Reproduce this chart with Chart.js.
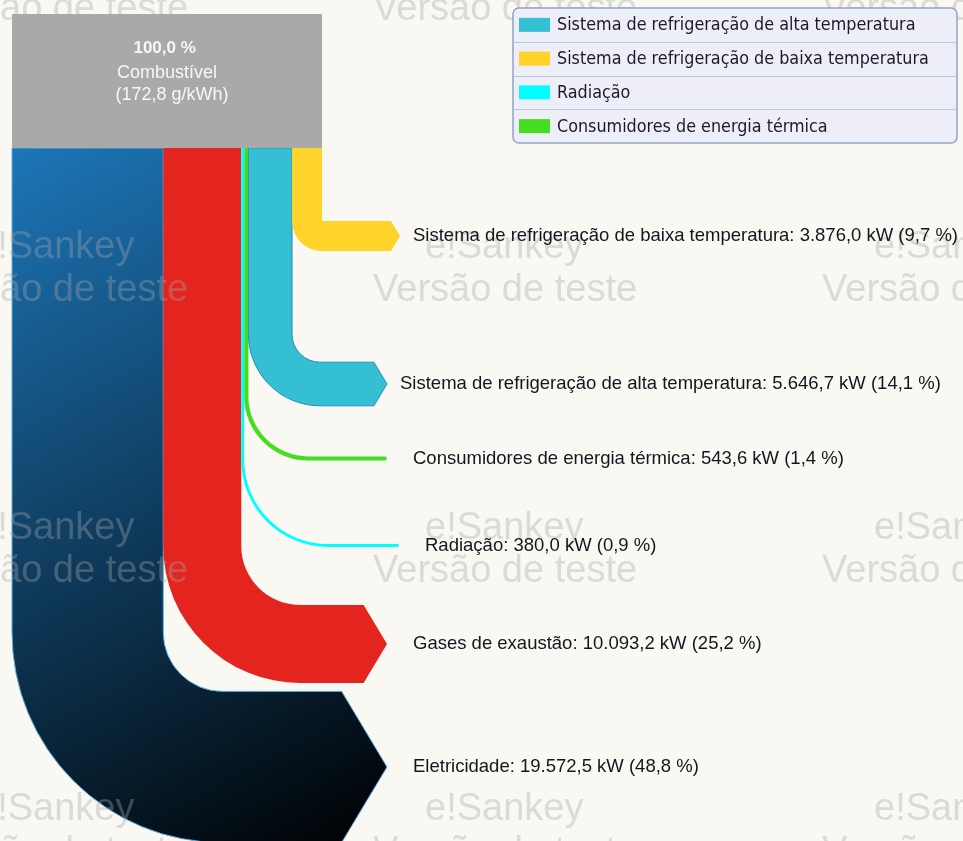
<!DOCTYPE html>
<html lang="pt">
<head>
<meta charset="utf-8">
<title>Balanço energético – Combustível</title>
<script src="https://cdn.jsdelivr.net/npm/chart.js@4.4.1/dist/chart.umd.min.js"></script>
<style>
  html, body { margin: 0; padding: 0; background: #f9f8f2; overflow: hidden; }
  #wrap { position: relative; width: 963px; height: 841px; }
</style>
</head>
<body>
<div id="wrap"><canvas id="sankey"></canvas></div>
<script>
/* ── Data ─────────────────────────────────────────── */
const sourceLines = ['100,0 % ', 'Combustível', '  (172,8 g/kWh)'];

// flows in the order they leave the source box (left → right)
const flowNames = [
  'Eletricidade',
  'Gases de exaustão',
  'Radiação',
  'Consumidores de energia térmica',
  'Sistema de refrigeração de alta temperatura',
  'Sistema de refrigeração de baixa temperatura'
];
const flowKW  = [19572.5, 10093.2, 380.0, 543.6, 5646.7, 3876.0];
const flowPct = [48.8, 25.2, 0.9, 1.4, 14.1, 9.7];
const flowColors = ['#1d76b8', '#e3241f', '#00ffff', '#44dd22', '#35bfd3', '#ffd42a'];

const legendNames = [
  'Sistema de refrigeração de alta temperatura',
  'Sistema de refrigeração de baixa temperatura',
  'Radiação',
  'Consumidores de energia térmica'
];
const legendColors = ['#35bfd3', '#ffd42a', '#00ffff', '#44dd22'];

/* ── Layout (chart units, 1 unit = 1 px) ──────────── */
const W = 963, H = 841;
const BOX    = { x0: 12, x1: 322, y0: 14, y1: 148 };
const exitY  = [767, 644, 545.5, 458.5, 384, 236];
const innerR = [59, 59, 84, 60, 28, 0];
const tipX   = [387, 387, 399, 387, 387, 400];
const labelX = [413, 413, 425, 413, 400, 413];
const LEG    = { x0: 513, x1: 957, y0: 8, y1: 143 };

const WM_X = [-76, 373, 822];        // "Versão de teste" columns
const WM_Y = [20, 301, 582, 863];    // baselines

/* ── Helpers ──────────────────────────────────────── */
function fmtNum(n, dec) {
  const parts = n.toFixed(dec).split('.');
  parts[0] = parts[0].replace(/\B(?=(\d{3})+(?!\d))/g, '.');
  return parts.join(',');
}
function flowLabel(i) {
  return flowNames[i] + ': ' + fmtNum(flowKW[i], 1) + ' kW (' + fmtNum(flowPct[i], 1) + ' %)';
}

const LABEL_FONT = '18.5px "Liberation Sans", Arial, sans-serif';
const BOX_FONT   = '18px "Liberation Sans", Arial, sans-serif';

/* ── Sankey drawing plugin ────────────────────────── */
const sankeyPlugin = {
  id: 'sankeyDraw',
  beforeDraw(chart) {
    const ctx = chart.ctx;
    ctx.save();
    ctx.fillStyle = '#f9f8f2';
    ctx.fillRect(0, 0, chart.width, chart.height);
    ctx.restore();
  },
  afterDatasetsDraw(chart) {
    const { ctx, scales: { x, y } } = chart;
    const px = v => x.getPixelForValue(v);
    const py = v => y.getPixelForValue(v);
    const rx = r => Math.abs(x.getPixelForValue(r) - x.getPixelForValue(0));

    const total = flowKW.reduce((a, b) => a + b, 0);
    const unit  = (BOX.x1 - BOX.x0) / total;

    ctx.save();
    let cursor = BOX.x0;
    flowKW.forEach((kw, i) => {
      const w   = kw * unit;
      const x0  = cursor, x1 = cursor + w;
      cursor = x1;
      const top = exitY[i] - w / 2, bot = exitY[i] + w / 2;
      const ri  = innerR[i], ro = ri + w;
      const cx  = x1 + ri, cy = top - ri;
      const base = tipX[i] - 0.6 * w / 2;

      ctx.beginPath();
      ctx.moveTo(px(x0), py(BOX.y1));
      ctx.lineTo(px(x1), py(BOX.y1));
      ctx.lineTo(px(x1), py(cy));
      if (ri > 0) ctx.arc(px(cx), py(cy), rx(ri), Math.PI, Math.PI / 2, true);
      ctx.lineTo(px(base), py(top));
      ctx.lineTo(px(tipX[i]), py(exitY[i]));
      ctx.lineTo(px(base), py(bot));
      ctx.lineTo(px(cx), py(bot));
      ctx.arc(px(cx), py(cy), rx(ro), Math.PI / 2, Math.PI, false);
      ctx.closePath();

      if (i === 0) {
        const g = ctx.createLinearGradient(px(x0), py(BOX.y1), px(tipX[i]), py(bot));
        g.addColorStop(0, flowColors[i]);
        g.addColorStop(1, '#000000');
        ctx.fillStyle = g;
      } else {
        ctx.fillStyle = flowColors[i];
      }
      ctx.fill();
      if (i === 0) { ctx.strokeStyle = '#5eaee0'; ctx.lineWidth = 1; ctx.stroke(); }
      if (i === 4) { ctx.strokeStyle = '#2a8dbd'; ctx.lineWidth = 1; ctx.stroke(); }
    });

    // source box
    ctx.fillStyle = '#a9a9a9';
    ctx.fillRect(px(BOX.x0), py(BOX.y0), px(BOX.x1) - px(BOX.x0), py(BOX.y1) - py(BOX.y0));
    const bcx = px((BOX.x0 + BOX.x1) / 2);
    ctx.fillStyle = '#f7f7f7';
    ctx.textAlign = 'center';
    ctx.textBaseline = 'middle';
    ctx.font = 'bold 17px "Liberation Sans", Arial, sans-serif';
    ctx.fillText(sourceLines[0], bcx, py(48));
    ctx.font = BOX_FONT;
    ctx.fillText(sourceLines[1], bcx, py(73));
    ctx.fillText(sourceLines[2], bcx, py(95));

    // trial watermark
    ctx.font = '38px "Liberation Sans", Arial, sans-serif';
    ctx.textAlign = 'left';
    ctx.textBaseline = 'alphabetic';
    ctx.fillStyle = 'rgba(165,165,165,0.36)';
    WM_Y.forEach(by => {
      WM_X.forEach(bx => {
        ctx.fillText('e!Sankey', px(bx + 52), py(by - 43));
        ctx.fillText('Versão de teste', px(bx), py(by));
      });
    });

    // flow labels
    ctx.font = LABEL_FONT;
    ctx.fillStyle = '#15151f';
    ctx.textBaseline = 'middle';
    flowKW.forEach((kw, i) => {
      ctx.fillText(flowLabel(i), px(labelX[i]), py(exitY[i]));
    });

    // legend
    const lx0 = px(LEG.x0), lx1 = px(LEG.x1), ly0 = py(LEG.y0), ly1 = py(LEG.y1);
    ctx.beginPath();
    ctx.roundRect(lx0, ly0, lx1 - lx0, ly1 - ly0, 6);
    ctx.fillStyle = '#edeef8';
    ctx.fill();
    ctx.strokeStyle = '#8ea4c6';
    ctx.lineWidth = 1.5;
    ctx.stroke();
    const rowH = (ly1 - ly0) / legendNames.length;
    ctx.font = '17.8px "DejaVu Sans Condensed", "DejaVu Sans", sans-serif';
    legendNames.forEach((name, i) => {
      const top = ly0 + i * rowH;
      if (i > 0) {
        ctx.beginPath();
        ctx.moveTo(lx0 + 1, Math.round(top) + 0.5);
        ctx.lineTo(lx1 - 1, Math.round(top) + 0.5);
        ctx.strokeStyle = '#bcc6dc';
        ctx.lineWidth = 1;
        ctx.stroke();
      }
      const mid = top + rowH / 2;
      ctx.fillStyle = legendColors[i];
      ctx.fillRect(lx0 + 6, mid - 7, 31, 14);
      ctx.fillStyle = '#1a1a28';
      ctx.fillText(name, lx0 + 44, mid + 1);
    });
    ctx.restore();
  }
};

/* ── Chart ────────────────────────────────────────── */
new Chart(document.getElementById('sankey'), {
  type: 'scatter',
  data: {
    datasets: [{
      label: 'destinos',
      data: flowKW.map((kw, i) => ({ x: tipX[i], y: exitY[i] })),
      pointRadius: 0,
      showLine: false
    }]
  },
  options: {
    responsive: true,
    maintainAspectRatio: false,
    animation: false,
    events: [],
    layout: { padding: 0 },
    plugins: { legend: { display: false }, tooltip: { enabled: false } },
    scales: {
      x: { type: 'linear', min: 0, max: W, display: false },
      y: { type: 'linear', min: 0, max: H, reverse: true, display: false }
    }
  },
  plugins: [sankeyPlugin]
});
</script>
</body>
</html>
